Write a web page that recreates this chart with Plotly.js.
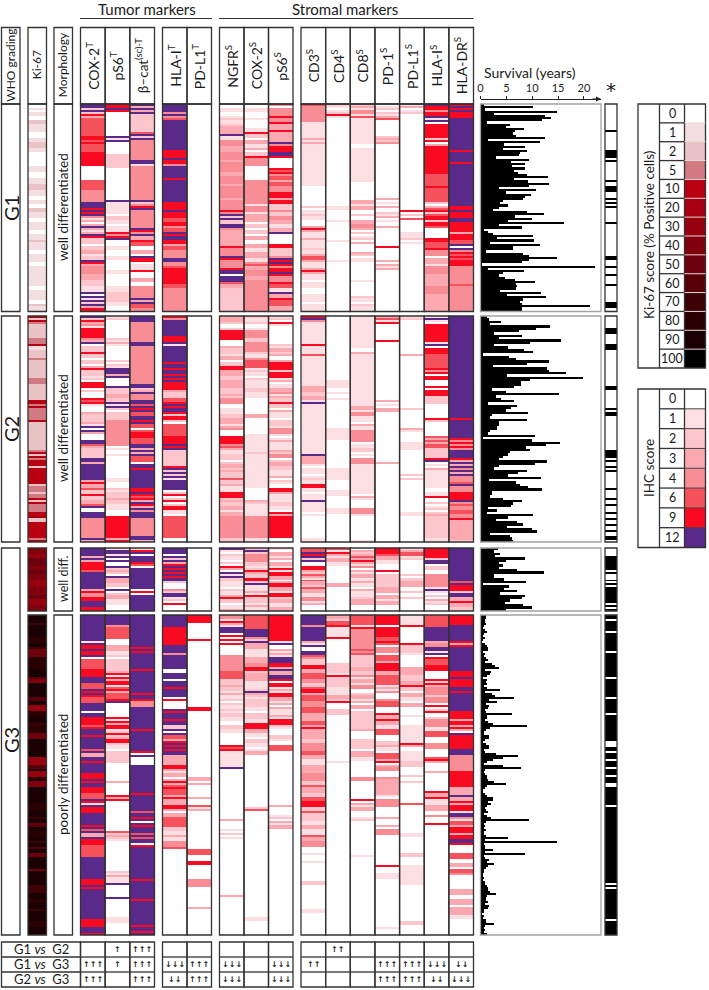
<!DOCTYPE html>
<html><head><meta charset="utf-8"><script src="https://cdn.plot.ly/plotly-3.0.1.min.js"></script>
<style>html,body{margin:0;padding:0;background:#fff}#c{width:709px;height:990px}</style></head><body><div id="c"></div>
<script>
// ---------- legend / labels ----------
const ihcLevels=[0,1,2,3,4,6,9,12];
const ihcColors=['#ffffff','#fcdfe2','#fcc6cc','#fba8b0','#f88d96','#f6525e','#fa0a20','#5a2a8a'];
const kiLevels=[0,1,2,5,10,20,30,40,50,60,70,80,90,100];
const kiColors=['#ffffff','#f3dfe1','#eac3c7','#d17a82','#b80012','#a80010','#96000f','#80000e','#6c000c','#570008','#3c0005','#2b0003','#1a0002','#000000'];
const tumor1Labels=['COX-2<sup>T</sup>','pS6<sup>T</sup>','β–cat<sup>(sc)-T</sup>'];
const tumor2Labels=['HLA-I<sup>T</sup>','PD-L1<sup>T</sup>'];
const stroma1Labels=['NGFR<sup>S</sup>','COX-2<sup>S</sup>','pS6<sup>S</sup>'];
const stroma2Labels=['CD3<sup>S</sup>','CD4<sup>S</sup>','CD8<sup>S</sup>','PD-1<sup>S</sup>','PD-L1<sup>S</sup>','HLA-I<sup>S</sup>','HLA-DR<sup>S</sup>'];
const cmpLabels=['G1 <i>vs</i>  G2','G1 <i>vs</i>  G3','G2 <i>vs</i>  G3'];
const cmpG1G2=['','↑','↑↑↑','','','','','','','↑↑','','','','',''];
const cmpG1G3=['↑↑↑','↑','↑↑↑','↓↓↓','↑↑↑','↓↓↓','','↓↓↓','↑↑','','','↑↑↑','↑↑↑','↓↓↓','↓↓'];
const cmpG2G3=['↑↑↑','','↑↑↑','↓↓','↑↑↑','↓↓↓','','↓↓↓','','','','↑↑↑','↑↑↑','↓↓','↓↓↓'];

// ---------- values: [score, rows, score, rows, ...] ----------
// G1
const g1_ki67=[0,2,1,1,0,1,1,2,0,2,2,2,1,4,0,3,1,3,2,3,1,2,0,4,0,3,1,3,0,3,1,3,2,3,1,3,0,2,1,2,0,2,2,3,1,3,0,2,1,4,0,2,1,3,2,1,1,4,0,2,1,4,0,2,1,6,0,1,1,4,0,2,1,5,0,2,2,1,1,3];
const g1_cox2t=[12,2,2,1,12,1,2,1,9,1,3,1,6,9,9,2,6,1,9,1,6,4,9,7,0,7,6,5,4,6,12,3,9,1,12,1,9,1,12,1,4,1,1,1,3,1,0,1,3,1,12,1,3,1,1,1,3,1,12,1,9,1,2,3,0,1,2,2,3,2,1,1,2,2,12,1,9,1,3,1,4,4,3,3,2,3,1,3,12,1,0,1,12,1,1,1,12,1,2,1,12,1,3,1,9,2];
const g1_ps6t=[9,2,12,1,9,1,0,12,12,1,1,1,12,1,0,6,2,7,0,16,12,1,1,3,0,1,1,3,0,1,2,2,1,2,0,1,1,3,9,1,4,1,9,1,12,1,0,3,1,2,0,3,1,2,0,5,1,2,0,6,1,3,2,5,1,2,0,3];
const g1_bcat=[12,1,3,1,12,1,3,1,12,1,2,1,2,7,6,1,12,1,2,1,12,1,4,9,12,2,1,1,4,16,12,1,2,1,4,1,9,1,12,1,4,8,12,1,9,1,4,1,12,1,3,2,9,1,6,2,0,2,3,2,0,1,12,1,9,1,0,1,1,3,9,1,0,3,3,2,0,2,4,5,12,1,3,1,12,1,6,2,4,2];
const g1_hlait=[12,4,4,1,12,1,4,1,6,1,12,14,9,4,12,1,9,2,4,1,12,6,9,1,12,11,9,3,12,1,9,3,6,2,9,2,4,1,6,2,12,1,9,1,12,2,9,2,3,1,6,2,4,4,12,2,4,2,6,1,9,7,6,2,4,12];
const g1_pdl1t=[0,104];
const g1_ngfr=[0,2,1,2,0,2,1,1,2,1,1,2,2,1,3,4,12,1,1,2,4,3,3,3,4,4,3,1,4,5,3,2,4,4,3,1,4,6,3,1,4,6,9,1,4,1,12,1,2,1,12,1,2,2,12,2,4,1,3,8,9,1,4,4,12,1,9,1,4,4,9,1,12,2,0,1,12,3,6,1,3,2,2,12];
const g1_cox2s=[0,2,1,2,0,2,1,1,0,4,1,2,9,1,2,2,0,1,3,1,1,2,3,1,0,1,2,2,9,1,4,4,0,6,4,11,1,1,4,3,1,1,3,3,0,1,2,2,0,1,2,2,0,1,3,2,0,2,3,1,1,2,3,3,1,2,4,1,6,1,3,2,4,2,3,2,4,15];
const g1_ps6s=[4,1,0,1,4,4,9,1,4,2,9,1,3,3,9,1,3,4,12,1,4,1,9,3,12,2,9,1,0,5,9,1,6,1,9,1,4,1,6,2,3,1,6,2,4,3,9,3,3,1,9,2,2,2,4,1,2,2,4,2,3,2,1,2,3,2,12,1,0,5,9,2,2,4,4,1,12,1,9,1,12,1,9,1,4,1,9,2,12,1,9,1,4,2,9,1,6,2,1,2,12,1,3,2,9,1,6,3,3,3];
const g1_cd3=[6,1,4,8,1,7,3,1,1,1,3,1,1,20,0,10,2,1,0,1,1,2,2,1,1,2,0,3,3,1,9,1,3,1,1,2,3,1,1,4,2,1,1,2,3,1,6,2,3,1,1,3,3,1,9,1,3,1,1,3,0,1,1,2,0,3,1,4,0,1,1,4];
const g1_cd4=[2,1,1,1,0,1,1,1,2,1,9,1,1,1,0,42,1,1,0,5,1,1,0,9,1,1,0,8,1,1,0,24];
const g1_cd8=[2,1,3,1,1,1,4,2,1,1,6,1,1,12,0,2,1,17,0,9,3,2,1,1,3,1,0,2,2,1,0,2,3,2,4,2,3,1,0,1,2,1,0,1,1,1,2,1,0,1,3,1,0,4,3,1,2,1,0,1,1,2,0,8,1,1,0,7,2,1,1,2,0,1,2,1,1,3];
const g1_pd1=[0,1,1,1,2,1,0,1,2,1,1,1,3,1,6,1,0,8,2,1,3,1,2,1,4,1,0,27,3,1,0,1,1,1,0,1,3,1,0,3,2,1,1,1,3,1,0,1,1,1,0,2,3,1,0,9,9,1,0,6,3,1,0,1,3,1,1,1,3,1,0,21];
const g1_pdl1s=[1,1,3,1,0,1,1,1,2,1,0,46,9,1,0,1,2,1,0,1,6,1,0,6,1,2,2,1,0,1,1,1,0,33];
const g1_hlais=[12,1,9,2,4,1,9,2,12,1,1,1,12,1,0,1,9,7,3,1,2,1,9,1,0,1,3,1,9,14,6,6,9,1,6,7,2,1,0,1,3,1,6,2,9,1,2,1,6,1,9,2,2,1,9,2,6,1,0,5,9,2,6,3,9,1,4,3,0,1,3,3,1,1,4,4,3,7,4,4,3,9];
const g1_hladr=[9,1,12,1,9,1,12,1,9,3,12,15,9,1,12,5,9,1,12,21,9,1,12,1,9,3,12,2,9,5,3,1,9,3,6,2,12,1,0,1,12,1,4,1,9,1,6,1,9,1,6,1,9,3,4,8,6,1,4,13];
// G2
const g2_ki67=[10,1,2,1,10,1,5,1,2,8,5,3,10,1,1,2,2,4,5,1,2,10,5,3,2,8,10,2,5,1,10,1,5,1,10,1,5,1,5,4,10,1,2,10,2,5,5,1,10,1,2,1,10,1,5,1,10,3,2,1,10,8,2,1,5,1,5,3,2,1,5,2,10,1,2,1,10,1,5,1,5,3,10,2,20,1,2,2,10,9,5,1,10,1];
const g2_cox2t=[12,1,2,1,9,1,3,1,4,1,1,1,9,5,4,1,3,1,12,1,0,1,2,3,9,1,2,2,0,1,2,2,0,1,3,1,9,1,2,2,1,1,2,1,0,1,9,3,0,1,2,1,0,3,9,1,6,1,9,1,1,1,0,3,3,1,2,4,3,1,1,1,12,1,0,1,12,1,3,1,0,3,12,2,6,1,3,1,2,5,12,2,3,1,12,8,3,1,9,1,3,1,6,1,2,2,9,1,2,2,3,2,6,1,12,1,0,2,12,3,4,10,12,1,3,1];
const g2_ps6t=[1,1,2,1,0,8,2,1,1,1,3,1,1,1,0,6,2,1,0,1,2,1,1,1,12,2,3,1,12,1,0,4,12,1,2,3,3,1,2,2,12,1,1,1,12,1,2,1,0,1,2,3,4,12,0,1,1,1,0,2,1,1,0,10,1,2,0,2,2,1,1,1,2,3,3,1,2,2,1,2,0,3,9,10,3,1,9,1];
const g2_bcat=[12,3,4,10,12,2,4,18,12,2,2,1,3,1,12,1,4,3,12,2,6,1,12,1,9,1,12,1,6,2,12,2,9,1,12,1,6,2,0,1,6,1,9,3,6,3,12,2,3,1,12,1,3,1,12,1,6,3,0,1,12,2,9,1,12,8,9,2,12,1,9,1,6,1,9,1,3,1,12,1,9,1,3,1,12,1,4,1,12,3,4,9,12,2,3,1];
const g2_hlait=[9,1,4,1,12,7,9,3,12,1,1,1,12,7,9,1,12,2,9,1,12,1,9,1,12,1,9,1,12,1,9,1,9,3,3,1,2,2,6,2,9,1,12,1,9,1,12,2,9,1,2,1,9,1,2,1,0,1,6,6,9,3,12,1,9,1,12,1,2,7,9,1,12,1,2,1,12,1,2,1,12,1,1,1,12,4,0,1,2,1,9,1,0,1,2,1,9,1,0,1,2,1,9,1,1,2,0,1,6,10,0,2];
const g2_pdl1t=[0,113];
const g2_ngfr=[3,3,2,1,0,1,2,1,9,5,0,2,3,1,2,3,1,1,3,2,0,1,2,1,9,2,3,3,2,2,3,3,2,3,3,1,2,1,4,2,0,2,1,3,2,2,3,2,1,1,3,1,4,1,0,3,9,3,4,1,6,1,3,1,1,2,2,2,0,1,2,1,3,2,2,1,3,1,2,2,6,1,2,2,3,1,1,3,9,2,2,1,3,1,2,2,3,2,1,1,3,1,4,10,2,2];
const g2_cox2s=[2,1,1,2,2,1,0,1,1,1,4,4,2,2,4,4,2,1,1,2,4,1,6,3,1,1,2,1,1,2,0,1,2,1,1,3,2,2,1,3,0,7,3,2,0,1,0,6,1,8,2,1,1,15,0,5,3,1,2,1,1,5,4,10,1,2];
const g2_ps6s=[1,1,2,1,0,1,9,1,1,1,0,8,2,1,1,1,3,2,2,1,3,1,0,1,3,1,9,1,9,3,2,1,9,3,1,1,3,1,0,1,1,1,3,2,4,1,1,1,3,1,2,2,9,1,2,2,0,1,3,1,1,2,0,1,2,3,1,1,4,3,1,1,0,1,1,1,3,1,1,3,3,1,2,1,4,2,0,1,2,1,3,2,2,2,1,2,3,1,0,1,2,1,1,1,0,2,9,2,3,1,1,3,2,2,1,2,0,1,9,1,3,1,9,10,0,2];
const g2_cd3=[9,1,12,1,4,1,1,10,9,1,1,4,6,1,1,14,3,3,2,2,3,2,1,1,12,1,1,23,12,1,3,4,1,1,0,1,1,3,0,1,1,1,2,1,1,2,9,1,1,2,0,1,1,3,12,1,1,5,0,1,1,1,0,10,1,2];
const g2_cd4=[0,32,1,4,0,2,1,1,0,2,1,1,0,14,1,6,0,14,1,6,0,5,1,3,0,6,1,3,0,14];
const g2_cd8=[1,14,0,2,3,1,1,24,3,1,1,1,4,2,1,1,1,2,0,1,3,1,1,1,4,6,0,1,1,2,2,1,0,1,1,1,0,1,4,3,1,13,0,1,3,1,1,1,0,4,4,2,1,1,0,11,1,1];
const g2_pd1=[3,1,6,1,1,1,9,1,0,8,9,1,0,28,3,1,0,1,1,1,0,1,3,2,0,25,3,1,0,38];
const g2_pdl1s=[1,1,2,1,0,16,3,1,0,25,2,1,0,9,3,1,1,1,0,5,1,3,1,1,0,11,2,1,0,1,2,1,0,16,1,1,0,13];
const g2_hlais=[1,1,12,1,1,1,0,1,9,8,1,1,12,1,0,1,9,3,6,7,9,1,4,1,9,1,0,1,9,2,0,2,9,1,0,1,9,3,2,4,0,7,9,1,2,1,0,6,6,1,3,1,6,1,3,1,6,2,2,5,9,1,12,1,0,1,1,1,0,1,3,1,1,8,0,2,1,2,9,1,0,2,2,1,0,1,1,1,2,1,0,1,2,1,3,1,2,10,1,2];
const g2_hladr=[12,53,9,1,12,9,9,1,4,1,9,1,4,1,9,1,4,1,12,5,9,1,3,1,12,1,3,1,12,1,4,1,12,1,3,1,12,1,4,3,6,1,12,1,4,3,9,4,12,1,4,1,6,1,4,2,6,2,4,3,9,1,3,10,2,1];
// G3 well differentiated
const g3a_ki67=[40,3,30,2,50,4,40,2,50,2,40,3,30,4,40,4,50,2,30,3,40,3];
const g3a_cox2t=[12,4,3,1,12,1,3,1,9,3,6,1,12,1,12,8,3,1,9,1,4,1,9,2,12,3,9,2];
const g3a_ps6t=[1,1,12,2,1,1,12,1,0,1,12,1,0,2,12,1,2,1,3,1,2,1,0,1,12,1,3,3,2,2,0,1,12,1,0,1,2,1,3,2,1,3,0,3];
const g3a_bcat=[1,1,9,1,12,1,0,1,12,3,9,1,6,1,0,1,12,12,0,1,9,1,0,1,12,8];
const g3a_hlait=[12,3,0,1,12,1,2,1,12,1,3,1,9,1,12,1,9,1,12,1,9,1,12,1,9,1,12,1,2,1,0,3,4,1,2,1,12,2,1,1,2,1,0,1,9,1,0,3];
const g3a_pdl1t=[0,32];
const g3a_ngfr=[12,1,1,1,0,1,2,1,1,2,0,1,2,1,0,1,9,1,3,1,0,1,12,1,1,1,12,1,2,1,1,3,0,1,2,1,1,2,3,1,9,1,2,2,0,1,1,2,3,1];
const g3a_cox2s=[2,1,12,1,2,1,4,3,2,2,1,1,2,1,9,1,3,1,2,2,9,1,2,1,12,1,1,3,3,1,1,1,9,1,2,2,1,1,3,1,1,2];
const g3a_ps6s=[1,1,0,1,3,1,1,1,3,1,0,1,3,1,1,1,9,1,1,1,9,1,3,2,0,1,3,1,9,1,3,2,1,1,9,1,2,1,3,2,1,1,3,2];
const g3a_cd3=[6,2,12,1,9,1,12,1,2,1,12,1,0,1,9,2,3,1,2,1,6,1,3,1,1,1,6,1,3,2,2,1,6,1,3,2,1,1,4,2,1,1,3,1,0,3];
const g3a_cd4=[6,1,1,1,9,1,3,1,1,1,3,2,1,2,0,8,3,2,0,12];
const g3a_cd8=[0,1,3,1,2,1,3,1,6,1,3,1,9,1,3,1,1,1,4,1,0,1,3,1,1,1,3,2,1,1,3,1,1,2,0,1,3,1,1,3,2,1,3,3,0,3];
const g3a_pd1=[9,3,6,1,3,2,1,2,0,3,9,1,0,1,2,8,3,3,0,1,3,2,1,1,3,2,0,3];
const g3a_pdl1s=[1,1,3,1,6,2,1,1,2,1,0,7,2,1,0,1,2,1,3,3,0,2,2,1,0,2,2,1,0,6];
const g3a_hlais=[9,5,2,1,12,2,0,1,2,2,0,2,4,6,1,1,12,1,1,1,0,1,2,1,0,1,3,1,1,1,2,1,0,3];
const g3a_hladr=[12,16,6,1,12,1,9,3,2,1,12,1,3,2,9,1,3,2,2,2];
// G3 poorly differentiated
const g3b_ki67=[90,4,70,1,90,6,80,3,90,2,70,1,50,4,80,6,90,4,60,1,40,2,90,6,60,2,90,2,30,3,80,3,90,3,70,1,80,4,50,3,90,5,90,4,30,4,60,2,90,1,30,3,80,2,40,3,90,8,80,4,90,3,70,1,90,2,50,1,60,1,90,2,80,3,90,2,70,1,90,2,60,1,90,2,50,1,90,6,50,1,90,7,70,4,90,3,80,2,90,3,70,1,90,5,80,3,90,4];
const g3b_cox2t=[12,12,1,1,12,1,9,2,12,1,9,2,12,1,0,1,6,5,9,3,12,3,6,3,12,1,9,1,12,1,9,1,6,3,12,4,0,1,12,1,9,4,6,1,9,1,12,3,9,1,12,6,6,1,12,1,3,1,12,2,9,1,12,5,9,3,12,1,9,1,12,2,9,3,6,2,12,1,9,1,1,1,12,1,9,3,12,6,9,1,12,1,6,1,12,1,3,1,12,1,9,1,9,2,6,6,12,10,9,3,12,1,9,1,12,14,9,4,12,3,9,1];
const g3b_ps6t=[12,5,4,1,6,5,0,3,3,3,1,2,2,1,0,1,2,5,3,1,9,1,1,1,9,1,3,1,9,2,1,1,6,1,9,1,3,1,6,2,9,1,12,1,0,7,9,1,1,1,9,1,3,1,9,1,1,1,2,1,9,1,2,1,3,1,9,2,2,1,1,2,0,1,2,5,0,9,3,1,0,5,9,1,3,1,9,1,0,14,6,1,2,1,3,1,2,1,1,1,0,14,2,1,1,1,3,1,1,3,12,1,0,5,12,1,0,9,1,2,0,6];
const g3b_bcat=[12,15,9,1,12,1,9,1,12,7,9,1,12,10,9,1,12,2,9,1,4,3,12,10,9,1,12,9,9,1,0,1,12,1,0,1,0,2,12,13,9,1,12,8,6,1,12,1,9,1,12,1,0,1,12,1,9,1,12,3,6,1,12,1,6,1,12,1,0,1,9,1,12,15,9,1,12,8,9,1,12,11,9,1,12,2,9,1,12,1];
const g3b_hlait=[12,6,9,8,12,4,4,1,12,6,0,2,12,3,0,1,12,3,9,1,12,3,0,1,9,1,0,1,0,3,12,1,9,1,12,3,9,1,12,2,2,1,12,1,0,1,12,1,6,2,3,1,9,1,12,1,9,1,12,1,9,1,12,2,3,4,9,2,3,1,1,1,3,2,0,1,3,1,9,1,3,1,6,1,9,1,6,2,3,1,9,1,3,3,9,2,3,1,0,1,3,2,6,4,2,2,1,2,3,1,1,2,4,3,6,1,0,40];
const g3b_pdl1t=[9,4,0,8,9,1,0,33,9,2,0,33,3,2,0,1,3,1,0,6,3,1,0,3,6,1,1,1,3,1,0,19,6,3,0,3,9,2,0,7,4,4,0,10,3,1,0,13];
const g3b_ngfr=[4,2,1,1,9,1,3,1,1,1,12,3,0,1,9,1,0,1,9,1,0,1,9,1,0,5,4,7,6,4,2,3,3,1,2,2,1,1,3,1,1,2,2,1,0,1,2,1,1,2,2,1,1,1,2,2,1,2,0,2,2,2,1,2,0,2,0,4,9,1,6,1,9,1,1,1,1,7,12,1,0,24,3,1,0,4,1,1,0,1,2,1,0,1,1,1,0,27,3,1,0,19];
const g3b_cox2s=[6,6,12,4,4,1,2,1,12,1,3,2,1,4,3,3,4,1,9,2,2,1,3,4,1,3,2,1,12,1,3,1,2,1,1,1,2,3,1,2,0,1,2,3,1,2,9,2,3,2,1,2,0,1,2,2,1,1,0,1,1,1,3,2,0,23,2,1,6,1,0,48,1,2,0,6];
const g3b_ps6s=[9,11,1,1,12,1,0,1,3,1,1,1,3,1,1,1,12,2,9,2,3,1,12,1,3,1,12,2,9,1,0,1,9,1,1,1,3,1,1,1,9,2,3,1,1,1,3,1,0,1,3,1,1,2,3,1,1,1,9,2,2,1,1,1,0,3,2,1,1,1,0,2,6,2,0,23,3,1,0,3,1,1,2,1,0,1,3,1,1,1,3,1,0,45];
const g3b_cd3=[12,4,4,1,12,6,3,1,1,1,12,1,0,1,12,2,6,1,4,1,2,2,9,2,3,2,6,2,4,2,2,2,6,1,9,1,3,1,6,3,4,2,6,3,3,3,6,2,3,1,9,1,3,4,2,2,4,3,6,2,3,2,1,2,3,4,4,3,2,2,6,1,3,2,2,2,6,2,9,2,2,2,6,1,2,3,1,2,3,2,1,2,6,1,3,2,4,2,0,3,1,1,0,2,1,1,0,8,2,2,0,10,1,2,0,9];
const g3b_cd4=[3,2,2,1,6,2,9,1,1,5,9,1,0,13,2,5,1,1,9,1,2,5,1,5,3,2,2,1,9,1,0,3,2,3,0,24,1,1,0,89];
const g3b_cd8=[6,4,1,1,9,1,4,9,6,1,4,1,6,1,2,5,3,2,2,1,4,1,1,1,3,2,1,1,4,2,0,1,2,1,3,2,1,1,3,1,0,1,3,1,0,1,2,8,3,1,0,4,2,4,0,1,3,3,1,1,0,7,4,2,0,8,9,1,0,1,3,1,1,1,3,1,0,3,1,1,2,1,0,15,1,1,0,34];
const g3b_pd1=[9,5,0,1,9,5,6,2,9,1,6,1,0,1,4,3,0,1,6,3,3,1,9,3,3,2,6,5,1,1,3,1,1,1,4,1,0,3,4,1,6,3,0,3,9,1,3,2,9,1,3,2,1,2,6,3,0,3,2,2,3,1,1,2,0,1,6,3,3,1,9,1,0,1,3,1,4,2,0,2,4,1,3,3,3,5,1,1,0,1,4,4,0,5,3,1,0,3,3,1,0,1,4,3,0,15,9,1,0,3,1,3,0,23,1,1,0,3];
const g3b_pdl1s=[1,4,9,1,0,6,9,1,2,3,1,1,0,5,3,3,2,2,3,2,9,1,2,1,0,1,3,2,1,1,0,1,3,2,0,3,1,1,0,3,1,6,1,1,9,1,3,1,0,1,1,4,2,3,0,3,2,1,0,1,2,1,0,8,6,1,0,11,1,2,0,6,2,2,0,3,1,8,0,14,2,2,0,4];
const g3b_hlais=[6,5,12,6,3,1,4,2,12,1,1,1,12,1,0,1,9,1,6,2,9,3,0,3,9,1,2,1,9,1,3,1,4,3,2,1,4,2,0,1,9,1,0,1,2,1,9,1,0,1,2,1,4,4,1,1,6,3,0,2,4,3,0,3,6,1,9,1,3,1,0,3,3,1,0,8,9,1,3,1,9,1,1,3,3,2,0,2,4,1,0,2,9,1,0,47];
const g3b_hladr=[9,5,12,8,9,1,3,1,9,1,12,12,9,3,12,1,9,4,12,2,9,1,12,2,12,7,9,4,3,1,9,2,3,1,9,1,3,1,0,1,12,1,9,7,12,3,4,8,9,9,3,4,12,1,3,2,9,1,3,1,9,3,1,1,12,2,4,1,1,1,6,2,3,1,9,3,3,1,9,2,12,2,9,1,0,4,6,3,0,2,3,2,0,1,6,2,4,1,0,7,3,3,0,2,3,3,0,1,3,4,1,2,0,8];
// Survival in years, one bar per row
const g1_survival=[0.6,10.2,0.9,14.7,2.6,12.4,13.7,11.8,1.2,5.7,5,8.4,6.7,6.2,6.8,12.5,1.5,11.6,4.5,8.6,4.4,8.9,7.6,7.5,3,9.4,5.8,8.6,6,8.7,6.5,7.2,9,13,6.4,9.2,13.3,9.4,3.5,10.7,5,9.8,8.6,8.3,4.4,3.8,5.3,3.5,2.5,9,12.3,6.7,10,5.4,16.2,3.5,8,0.6,1.5,2.5,10.1,3.1,10.3,1.9,11.5,6.3,6.3,1,8.3,9.4,14.8,9.4,8,0.3,22.2,1.5,8.5,4.3,3.5,4.7,6.7,10.5,6.9,7,6.9,3.8,11.7,5.2,12.6,8.3,7.6,8,21.1,8,8];
const g2_survival=[1.3,1.7,3.9,1.9,13.4,10.8,7.5,2.6,8,3.5,15.6,9.6,2.6,5.4,8.4,10.2,0.4,5.6,6.9,13.3,9,2.5,12.8,13.2,16.6,5.2,19.8,9.6,7.8,7.8,6.5,2.2,4.9,15.2,3,3.9,6.5,1.5,7,5.9,5,9.2,2.2,1.9,8.9,3.5,3.5,3.2,3.2,1.9,1.5,10.5,0.4,10,15.4,12.6,8.8,9.6,5.7,5.4,4.4,3.5,12.8,10.5,3.5,2.6,8.9,7.3,5.4,11.7,1.7,6.8,7.6,9.2,11.8,2.2,2.2,1.9,4.4,8,6.3,5.9,1.5,3.2,1.3,10.2,5.4,3,7,8.3,5.2,9.9,11,1.9,5.7,6.1,6.3];
const g3a_survival=[3.3,2.6,3.7,2.8,8.6,5,3.5,4.4,3.5,7.1,12.2,2.6,2.6,4.5,8.8,0.4,5.6,4.5,7,3.8,8.6,8,5.7,4.8,8.3,10,4.9];
const g3b_survival=[1.1,1.1,0.8,0.9,1,0.7,0.5,0.8,1.2,0.6,0.5,0.9,0.5,0.3,0.8,1.3,1.5,1.4,0.4,0.8,0.6,1.1,1.5,0.9,2.3,2.8,3.6,0.8,2,1.9,1.2,0.5,1.3,1.1,1.2,0.7,1.2,3.7,0.8,2.2,2.8,6.4,1.7,3.2,1,1.6,1.4,0.9,1.1,6.1,1.3,1.3,0.8,1.5,2.5,9,1.9,1,0.6,0.7,1.6,1.7,0.8,0.5,1.1,1.6,1.7,0.7,0.8,2.9,7.3,4.4,2.5,1.2,0.6,4.4,7.8,0.8,0.7,0.9,1.2,1.2,1.4,2.6,5,1.3,0.8,0.4,0.5,0.9,1.2,2.5,2.4,1.4,2.1,1.3,0.9,1.1,1.4,0.6,1.2,2,9.4,1,0.6,0.9,0.7,1,0.7,0.6,1.1,5.3,0.9,14.8,0.7,0.9,0.9,2.5,0.8,8.6,0.6,0.9,1.6,1.2,2.7,1.5,1,0.7,0.6,0.5,0.5,0.6,0.5,0.8,0.9,1.2,1.4,1.5,1.8,3,1.3,1,1.1,1.4,0.9,1.7,1.4,0.6,0.7,0.3,0.6,0.5,1,1.1,2.7,0.9,0.7,0.9,0.6,1.3];
// "*" column: [flag, rows, ...]
const g1_star=[0,13,1,1,0,9,1,2,1,1,0,1,1,1,0,1,1,1,0,9,1,1,0,2,1,3,0,3,1,1,0,1,1,1,0,1,1,1,0,7,1,1,0,16,1,2,0,4,1,1,0,3,1,1,0,4,1,1,0,8,1,3,0,2];
const g2_star=[0,6,1,3,0,5,1,3,0,18,1,2,0,9,1,1,0,1,1,2,0,17,1,3,1,1,0,1,1,1,0,2,1,1,0,1,1,1,0,8,1,1,0,4,1,1,0,2,1,1,0,3,1,1,0,2,1,1,0,2,1,1,0,2,1,1,0,2,1,2,0,1];
const g3a_star=[0,4,1,7,0,1,1,1,0,3,1,1,0,1,1,1,0,1,1,8,0,1,1,1,0,1,1,1];
const g3b_star=[1,2,0,1,1,5,0,1,1,9,0,1,1,12,0,1,1,9,0,1,1,7,0,1,1,13,0,3,1,2,0,1,1,3,0,1,1,3,0,1,1,3,0,1,1,3,0,2,1,9,0,1,1,38,0,1,1,1,0,1,1,15,0,1,1,7];

// ---------- assembling the panels ----------
const W=709,H=990;
const px=x=>x/W, py=y=>1-y/H;
const panels=[
 {n:104,top:104,bot:311.5,ki:g1_ki67,cols:[[g1_cox2t,g1_ps6t,g1_bcat],[g1_hlait,g1_pdl1t],[g1_ngfr,g1_cox2s,g1_ps6s],[g1_cd3,g1_cd4,g1_cd8,g1_pd1,g1_pdl1s,g1_hlais,g1_hladr]],surv:g1_survival,star:g1_star},
 {n:113,top:316,bot:542,ki:g2_ki67,cols:[[g2_cox2t,g2_ps6t,g2_bcat],[g2_hlait,g2_pdl1t],[g2_ngfr,g2_cox2s,g2_ps6s],[g2_cd3,g2_cd4,g2_cd8,g2_pd1,g2_pdl1s,g2_hlais,g2_hladr]],surv:g2_survival,star:g2_star},
 {n:32,top:548,bot:611,ki:g3a_ki67,cols:[[g3a_cox2t,g3a_ps6t,g3a_bcat],[g3a_hlait,g3a_pdl1t],[g3a_ngfr,g3a_cox2s,g3a_ps6s],[g3a_cd3,g3a_cd4,g3a_cd8,g3a_pd1,g3a_pdl1s,g3a_hlais,g3a_hladr]],surv:g3a_survival,star:g3a_star},
 {n:160,top:615,bot:935,ki:g3b_ki67,cols:[[g3b_cox2t,g3b_ps6t,g3b_bcat],[g3b_hlait,g3b_pdl1t],[g3b_ngfr,g3b_cox2s,g3b_ps6s],[g3b_cd3,g3b_cd4,g3b_cd8,g3b_pd1,g3b_pdl1s,g3b_hlais,g3b_hladr]],surv:g3b_survival,star:g3b_star}
];
const groups=[{l:80.5,r:154.5,k:3,labels:tumor1Labels},{l:162.5,r:211.5,k:2,labels:tumor2Labels},{l:219.5,r:293,k:3,labels:stroma1Labels},{l:301,r:473.5,k:7,labels:stroma2Labels}];
const KI={l:28,r:46.5},MO={l:54,r:72.5},WHO={l:1.5,r:20},SU={l:480.5,r:601},ST={l:605,r:617};

function expandRuns(runs,n){
  let total=0;for(let i=1;i<runs.length;i+=2)total+=runs[i];
  const out=[];let idx=0,acc=runs[1];
  for(let r=0;r<n;r++){const p=(r+0.5)*total/n;while(p>acc&&idx+2<runs.length){idx+=2;acc+=runs[idx+1];}out.push(runs[idx]);}
  return out;
}
function stepped(levels,colors){
  const m=levels[levels.length-1],cs=[];
  levels.forEach((v,i)=>{const lo=i?(levels[i-1]+v)/2:0,hi=i<levels.length-1?(v+levels[i+1])/2:m;cs.push([lo/m,colors[i]],[hi/m,colors[i]]);});
  return cs;
}
const ihcScale=stepped(ihcLevels,ihcColors),kiScale=stepped(kiLevels,kiColors);
const starScale=[[0,'#ffffff'],[0.5,'#ffffff'],[0.5,'#000000'],[1,'#000000']];

const layout={width:W,height:H,margin:{l:0,r:0,t:0,b:0},paper_bgcolor:'#fff',plot_bgcolor:'rgba(0,0,0,0)',showlegend:false,shapes:[],annotations:[],font:{family:'Lato, "Open Sans", sans-serif',color:'#1a1a1a'}};
const data=[];
const LINE={color:'#333',width:1.3};
function rect(l,t,r,b,line){layout.shapes.push({type:'rect',xref:'paper',yref:'paper',x0:px(l),x1:px(r),y0:py(t),y1:py(b),line:line||LINE,layer:'above'});}
function hline(l,r,y,line){layout.shapes.push({type:'line',xref:'paper',yref:'paper',x0:px(l),x1:px(r),y0:py(y),y1:py(y),line:line||LINE,layer:'above'});}
function note(text,x,y,size,angle,extra){layout.annotations.push(Object.assign({text,xref:'paper',yref:'paper',x:px(x),y:py(y),showarrow:false,xanchor:'center',yanchor:'middle',textangle:angle||0,font:{size}},extra||{}));}
function ax(name,opts){layout[name]=Object.assign({visible:false,fixedrange:true,showgrid:false,zeroline:false},opts);}

// x axes: 1 Ki, 2-5 groups, 6 survival, 7 star; y axes: 1-4 panels
ax('xaxis',{domain:[px(KI.l),px(KI.r)],range:[-0.5,0.5]});
groups.forEach((g,i)=>ax('xaxis'+(i+2),{domain:[px(g.l),px(g.r)],range:[-0.5,g.k-0.5]}));
ax('xaxis6',{visible:true,domain:[px(SU.l),px(SU.r)],range:[0,23.3],anchor:'free',position:py(99),side:'top',tickvals:[0,5,10,15,20],ticks:'outside',ticklen:3,tickcolor:'#222',showline:true,linecolor:'#222',linewidth:1,tickfont:{size:11,color:'#222'},ticklabelstandoff:0});
ax('xaxis7',{domain:[px(ST.l),px(ST.r)],range:[-0.5,0.5]});
panels.forEach((p,i)=>{
  const yn=i?'y'+(i+1):'y',yname=i?'yaxis'+(i+1):'yaxis';
  ax(yname,{domain:[py(p.bot),py(p.top)],range:[p.n,0]});
  const rows=Array.from({length:p.n},(_,r)=>r+0.5);
  data.push({type:'heatmap',xaxis:'x',yaxis:yn,x:[0],y:rows,z:expandRuns(p.ki,p.n).map(v=>[v]),colorscale:kiScale,zmin:0,zmax:100,showscale:false,hoverinfo:'skip'});
  rect(KI.l,p.top,KI.r,p.bot);rect(MO.l,p.top,MO.r,p.bot);
  groups.forEach((g,j)=>{
    const cols=p.cols[j].map(c=>expandRuns(c,p.n));
    const z=rows.map((_,r)=>cols.map(c=>c[r]));
    data.push({type:'heatmap',xaxis:'x'+(j+2),yaxis:yn,x:cols.map((_,c)=>c),y:rows,z,colorscale:ihcScale,zmin:0,zmax:12,showscale:false,hoverinfo:'skip'});
    const w=(g.r-g.l)/g.k;
    for(let c=0;c<g.k;c++)rect(g.l+c*w,p.top,g.l+(c+1)*w,p.bot);
  });
  const b=p.n/p.surv.length;
  data.push({type:'bar',orientation:'h',xaxis:'x6',yaxis:yn,x:p.surv,y:p.surv.map((_,k)=>(k+0.5)*b),width:b,marker:{color:'#000',line:{width:0}},hoverinfo:'skip'});
  rect(SU.l,p.top,SU.r,p.bot,{color:'#a3a3a3',width:1.3});
  data.push({type:'heatmap',xaxis:'x7',yaxis:yn,x:[0],y:rows,z:expandRuns(p.star,p.n).map(v=>[v]),colorscale:starScale,zmin:0,zmax:1,showscale:false,hoverinfo:'skip'});
  rect(ST.l,p.top,ST.r,p.bot);
});
layout.bargap=0;
rect(WHO.l,panels[0].top,WHO.r,panels[0].bot);rect(WHO.l,panels[1].top,WHO.r,panels[1].bot);rect(WHO.l,panels[2].top,WHO.r,panels[3].bot);

// header row
[[WHO,'WHO grading'],[KI,'Ki-67'],[MO,'Morphology']].forEach(([c,t])=>{rect(c.l,27.5,c.r,104);note(t,(c.l+c.r)/2,65,12,-90);});
groups.forEach(g=>{const w=(g.r-g.l)/g.k;g.labels.forEach((t,c)=>{rect(g.l+c*w,27.5,g.l+(c+1)*w,104);note(t,g.l+(c+0.5)*w,66,t.length>18?13.5:14,-90);});});
note('Tumor markers',147,8.5,15);hline(80,212,18.5,{color:'#333',width:1.2});
note('Stromal markers',345,8.5,15);hline(219,473.5,18.5,{color:'#333',width:1.2});
note('Survival (years)',530,72,14);
note('*',611,90,20,0,{font:{size:20,family:'"DejaVu Sans"'}});
layout.annotations.push({text:'',xref:'paper',yref:'paper',x:px(601),y:py(99),ax:-10,ay:0,axref:'pixel',ayref:'pixel',showarrow:true,arrowhead:2,arrowsize:1,arrowwidth:1,arrowcolor:'#222'});

// side labels
note('G1',11,208,20,-90);note('G2',11,429,20,-90);note('G3',11,740,20,-90);
note('well differentiated',63,207,13.5,-90);note('well differentiated',63,428,13.5,-90);note('well diff.',63,579,12.5,-90);note('poorly differentiated',63,775,13.5,-90);

// comparison table
const rowEdges=[942,957,972,987];
const cmpRows=[cmpG1G2,cmpG1G3,cmpG2G3];
rect(1.5,942,80.5,987);hline(1.5,80.5,957);hline(1.5,80.5,972);
cmpLabels.forEach((t,r)=>note(t,41,(rowEdges[r]+rowEdges[r+1])/2-1,13));
let ci=0;
groups.forEach(g=>{const w=(g.r-g.l)/g.k;
  for(let c=0;c<g.k;c++){
    rect(g.l+c*w,942,g.l+(c+1)*w,987);
    hline(g.l+c*w,g.l+(c+1)*w,957);hline(g.l+c*w,g.l+(c+1)*w,972);
    cmpRows.forEach((row,r)=>{if(row[ci])note(row[ci],g.l+(c+0.5)*w,(rowEdges[r]+rowEdges[r+1])/2,8,0,{font:{size:8,family:'"DejaVu Sans"',color:'#222',weight:700}});});
    ci++;
  }
});

// legends
function legend(levels,scale,top,bot,xn,yn,title,titleY,zmax,lineColor){
  const n=levels.length,rows=levels.map((_,i)=>i+0.5),h=(bot-top)/n;
  ax('xaxis'+xn,{domain:[px(684.5),px(705.5)],range:[-0.5,0.5],anchor:'y'+yn});
  ax('yaxis'+yn,{domain:[py(bot),py(top)],range:[n,0],anchor:'x'+xn});
  data.push({type:'heatmap',xaxis:'x'+xn,yaxis:'y'+yn,x:[0],y:rows,z:levels.map(v=>[v]),colorscale:scale,zmin:0,zmax,showscale:false,hoverinfo:'skip'});
  rect(638,top,705.5,bot);
  layout.shapes.push({type:'line',xref:'paper',yref:'paper',x0:px(659.5),x1:px(659.5),y0:py(top),y1:py(bot),line:LINE,layer:'above'});
  layout.shapes.push({type:'line',xref:'paper',yref:'paper',x0:px(684.5),x1:px(684.5),y0:py(top),y1:py(bot),line:LINE,layer:'above'});
  levels.forEach((v,i)=>{
    note(String(v),672,top+(i+0.5)*h,12.5);
    if(i){
      hline(659.5,684.5,top+i*h);
      hline(684.5,705.5,top+i*h,{color:lineColor,width:1});
    }
  });
  note(title,649,titleY,13.5,-90);
}
legend(kiLevels,kiScale,104,368,8,5,'Ki-67 score (% Positive cells)',235,100,'#e8d8d8');
legend(ihcLevels,ihcScale,389,547.5,9,6,'IHC score',468,12,'#444');

Plotly.newPlot('c',data,layout,{staticPlot:true,displayModeBar:false});
</script></body></html>
